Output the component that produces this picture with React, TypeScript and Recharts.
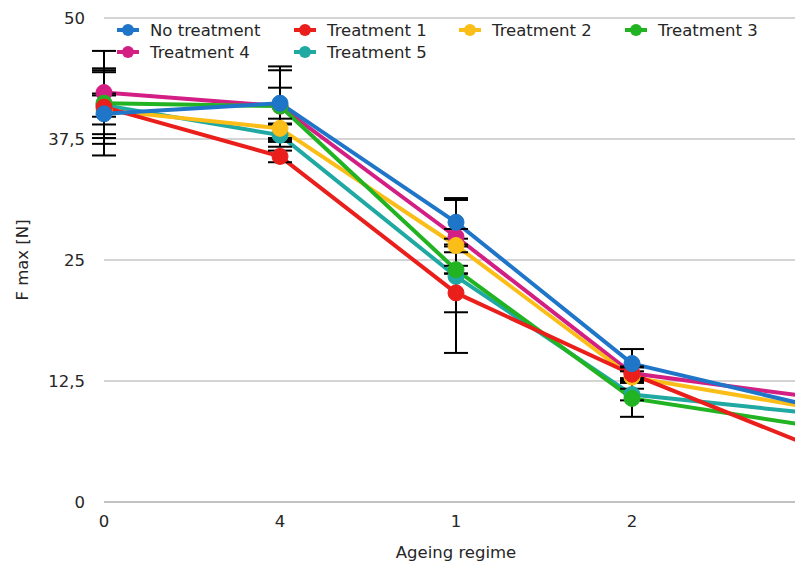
import React from 'react';
import { LineChart, Line, XAxis, YAxis, CartesianGrid, ErrorBar, Legend, Label } from 'recharts';

const categories = ['0', '4', '1', '2', '3'];

const noTreatment = [40.1, 41.2, 28.9, 14.3, 10.0];
const treatment1 = [40.8, 35.7, 21.6, 13.2, 5.9];
const treatment2 = [40.5, 38.6, 26.5, 12.9, 9.8];
const treatment3 = [41.2, 40.9, 24.0, 10.7, 7.9];
const treatment4 = [42.3, 40.9, 27.4, 13.3, 10.9];
const treatment5 = [41.0, 37.9, 23.3, 11.1, 9.2];

const noTreatmentErr = [4.3, 3.8, 2.5, 1.5, 1.0];
const treatment1Err = [3.8, 0.6, 2.0, 0.8, 0.8];
const treatment2Err = [1.5, 1.0, 0.7, 0.6, 0.6];
const treatment3Err = [3.6, 1.9, 0.4, 1.9, 0.6];
const treatment4Err = [4.3, 3.7, 0.8, 0.6, 0.6];
const treatment5Err = [1.2, 1.2, 7.9, 0.6, 0.6];

const yTicks = [0, 12.5, 25, 37.5, 50];

const series = [
  { key: 'nt', name: 'No treatment', color: '#1f75c8', values: noTreatment, errors: noTreatmentErr },
  { key: 't1', name: 'Treatment 1', color: '#ea1f1c', values: treatment1, errors: treatment1Err },
  { key: 't2', name: 'Treatment 2', color: '#fbbd17', values: treatment2, errors: treatment2Err },
  { key: 't3', name: 'Treatment 3', color: '#22b322', values: treatment3, errors: treatment3Err },
  { key: 't4', name: 'Treatment 4', color: '#d31f84', values: treatment4, errors: treatment4Err },
  { key: 't5', name: 'Treatment 5', color: '#1fa9a2', values: treatment5, errors: treatment5Err },
];

const drawOrder = ['t5', 't4', 't2', 't3', 't1', 'nt'];

const data = categories.map((c, i) => {
  const row: Record<string, string | number> = { cat: c };
  series.forEach((s) => {
    row[s.key] = s.values[i];
    row[s.key + 'Err'] = s.errors[i];
  });
  return row;
});

const FONT = '"DejaVu Sans", sans-serif';
const TEXT = '#262626';

const LegendContent = () => (
  <div
    style={{
      display: 'grid',
      gridTemplateColumns: '177px 165px 166px 160px',
      gridAutoRows: '22px',
      fontFamily: FONT,
      fontSize: 16.5,
      color: TEXT,
    }}
  >
    {series.map((s) => (
      <div key={s.key} style={{ display: 'flex', alignItems: 'center', whiteSpace: 'nowrap' }}>
        <svg width={24} height={14} style={{ display: 'block' }}>
          <line x1={1} y1={7} x2={23} y2={7} stroke={s.color} strokeWidth={4} />
          <circle cx={12} cy={7} r={6} fill={s.color} />
        </svg>
        <span style={{ marginLeft: 10 }}>{s.name}</span>
      </div>
    ))}
  </div>
);

const YLabel = () => (
  <text
    x={14}
    y={252}
    transform="rotate(-90, 14, 252)"
    textAnchor="middle"
    dominantBaseline="central"
    fontFamily={FONT}
    fontSize={16.5}
    fill={TEXT}
  >
    F max [N]
  </text>
);

export default function App() {
  return (
    <div style={{ width: 795, height: 561, overflow: 'hidden', position: 'relative' }}>
      <LineChart
        width={820}
        height={561}
        data={data}
        margin={{ top: 10, right: 20, bottom: 7, left: 0 }}
      >
        <CartesianGrid vertical={false} stroke="#c6c6c6" strokeWidth={1.5} />
        <XAxis
          dataKey="cat"
          axisLine={{ stroke: '#bdbdbd', strokeWidth: 1.5 }}
          tickLine={false}
          tickSize={6}
          tickMargin={7}
          height={60}
          tick={{ fontFamily: FONT, fontSize: 16.5, fill: TEXT }}
          interval={0}
        >
          <Label
            value="Ageing regime"
            position="insideBottom"
            offset={4}
            style={{ fontFamily: FONT, fontSize: 16.5, fill: TEXT }}
          />
        </XAxis>
        <YAxis
          domain={[0, 50]}
          ticks={yTicks}
          width={96}
          axisLine={false}
          tickLine={false}
          tickSize={6}
          tickMargin={13}
          tickFormatter={(v: number) => String(v).replace('.', ',')}
          tick={{ fontFamily: FONT, fontSize: 16.5, fill: TEXT }}
        >
          <Label content={<YLabel />} />
        </YAxis>
        <Legend
          layout="vertical"
          align="center"
          verticalAlign="middle"
          content={<LegendContent />}
          wrapperStyle={{ top: 11, left: 108, width: 700, height: 44 }}
        />
        {drawOrder.map((k) => {
          const s = series.find((x) => x.key === k)!;
          return (
            <Line
              key={k}
              type="linear"
              dataKey={k}
              name={s.name}
              stroke={s.color}
              strokeWidth={4}
              dot={{ r: 8, fill: s.color, stroke: s.color, strokeWidth: 1 }}
              activeDot={false}
              isAnimationActive={false}
            />
          );
        })}
        {drawOrder.map((k) => (
          <Line
            key={k + '-err'}
            type="linear"
            dataKey={k}
            stroke="none"
            dot={false}
            activeDot={false}
            legendType="none"
            isAnimationActive={false}
          >
            <ErrorBar dataKey={k + 'Err'} width={12} stroke="#000" strokeWidth={2} direction="y" />
          </Line>
        ))}
      </LineChart>
    </div>
  );
}
